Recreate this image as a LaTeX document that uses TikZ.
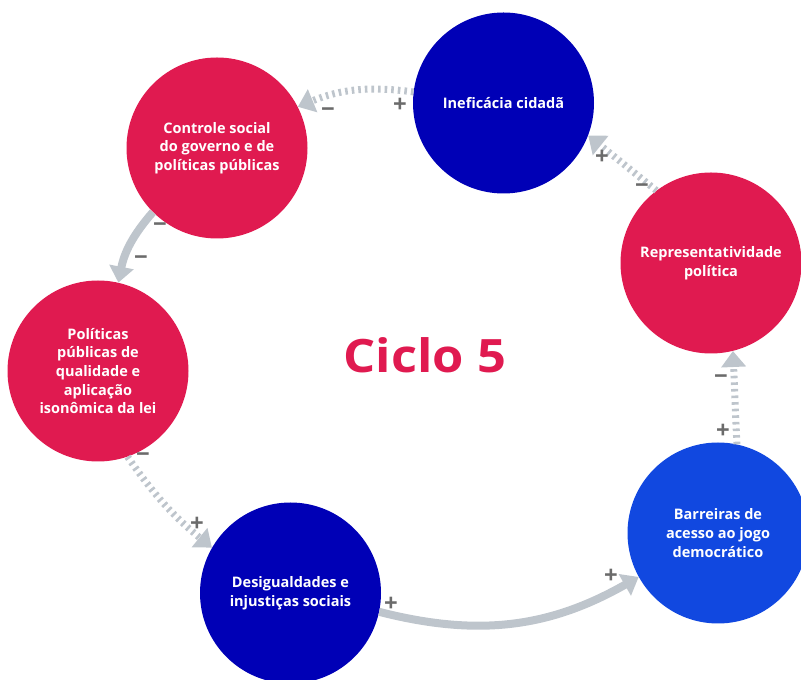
\documentclass[tikz,border=0pt]{standalone}
\usepackage{fontspec}
\setmainfont{Open Sans}
\usetikzlibrary{arrows.meta}
\definecolor{cicloRed}{HTML}{E01A50}
\definecolor{cicloBlue}{HTML}{0000B6}
\definecolor{cicloBright}{HTML}{1148E0}
\definecolor{setaGray}{HTML}{BEC5CC}
\definecolor{sinalGray}{HTML}{6B6B6B}
\tikzset{
	laco/.style={circle, minimum size=181pt, inner sep=0pt, text=white, align=center,
		font=\bfseries\fontsize{14.5}{18.6}\selectfont},
	fluxo/.style={line width=8pt, color=setaGray, -{Triangle[length=16pt,width=24pt]}},
	fluxotrac/.style={fluxo, line width=7pt, dash pattern=on 2.6pt off 4pt},
	sinal/.style={text=sinalGray, inner sep=0pt, font=\bfseries\fontsize{24}{24}\selectfont}
}

\begin{document}
\begin{tikzpicture}[x=1pt, y=1pt]
			%%%%% START %%%%%
			
			\clip (0, 0) rectangle (801, 680);
			
			\node[laco, fill=cicloBlue] (inef) at (503.5, 577) {Ineficácia cidadã};
			\node[laco, fill=cicloRed] (ctrl) at (217, 532) {Controle social\\do governo e de\\políticas públicas};
			\node[laco, fill=cicloRed] (repr) at (711, 417) {Representatividade\\política};
			\node[laco, fill=cicloRed] (polit) at (98, 309) {Políticas\\públicas de\\qualidade e\\aplicação\\isonômica da lei};
			\node[laco, fill=cicloBlue] (desig) at (290.5, 87) {Desigualdades e\\injustiças sociais};
			\node[laco, fill=cicloBright] (barr) at (718, 147) {Barreiras de\\acesso ao jogo\\democrático};
			
			\node[text=cicloRed, xscale=1.1, transform shape, font=\bfseries\fontsize{46}{46}\selectfont] (titulo) at (425, 325) {Ciclo 5};
			
			\draw[fluxotrac] (inef.173) to[bend right=15] (ctrl.27);
			\draw[fluxo] (ctrl.225) to[bend right=15] (polit.77);
			\draw[fluxotrac] (polit.-71) to[bend right=8] (desig.150);
			\draw[fluxo] (desig.-12) to[bend right=22] (barr.209);
			\draw[fluxotrac] (barr.78) -- (repr.-76);
			\draw[fluxotrac] (repr.127) -- (inef.-21);
			
			% sinais
			\node[sinal] (s1a) at (400, 575) {+};
			\node[sinal] (s1b) at (328, 567) {−};
			\node[sinal] (s2a) at (160, 452) {−};
			\node[sinal] (s2b) at (141, 419) {−};
			\node[sinal] (s3a) at (143, 222) {−};
			\node[sinal] (s3b) at (197, 156) {+};
			\node[sinal] (s4a) at (391, 76) {+};
			\node[sinal] (s4b) at (611, 104) {+};
			\node[sinal] (s5a) at (723, 249) {+};
			\node[sinal] (s5b) at (721, 300) {−};
			\node[sinal] (s6a) at (642, 491) {−};
			\node[sinal] (s6b) at (602, 523) {+};
			
			%%%%% END %%%%%
\end{tikzpicture}
\end{document}
